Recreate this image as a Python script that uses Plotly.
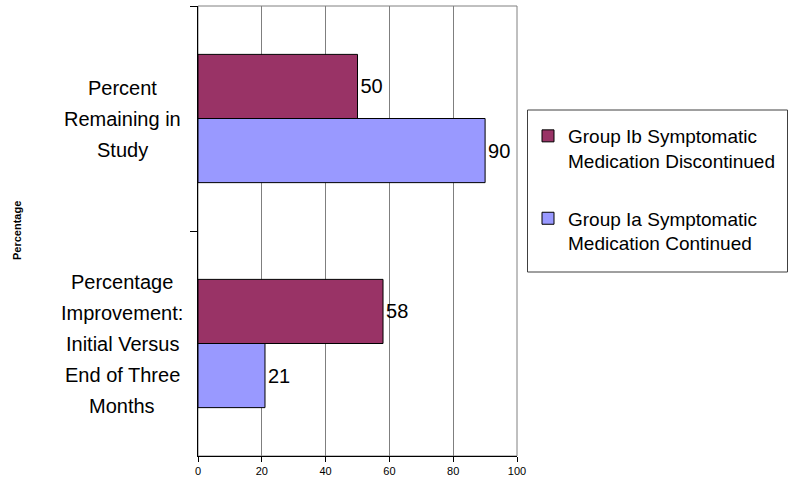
import plotly.graph_objects as go

# Categories (top to bottom) and their label lines
categories = ["Percent Remaining in Study",
              "Percentage Improvement: Initial Versus End of Three Months"]
label_lines = [["Percent", "Remaining in", "Study"],
               ["Percentage", "Improvement:", "Initial Versus", "End of Three", "Months"]]

# Series values
group_ib = [50, 58]   # symptomatic medication discontinued
group_ia = [90, 21]   # symptomatic medication continued
series_names = ["Group Ib Symptomatic<br>Medication Discontinued",
                "Group Ia Symptomatic<br>Medication Continued"]
series_colors = ["#993366", "#9999FF"]

x_ticks = [0, 20, 40, 60, 80, 100]

FONT = "Liberation Sans, Arial, sans-serif"
W, H = 788, 484
ML, MR, MT, MB = 198, 271, 6, 28
PW = W - ML - MR
PH = H - MT - MB


def px_x(p):
    return (p - ML) / PW


def px_y(p):
    return 1 - (p - MT) / PH


fig = go.Figure()
for i, (name, vals, col) in enumerate(zip(series_names, [group_ib, group_ia], series_colors)):
    fig.add_trace(go.Bar(
        y=categories, x=vals, name=name, orientation="h",
        marker=dict(color=col, line=dict(color="#000000", width=1)),
        text=[str(v) for v in vals], textposition="outside",
        textfont=dict(family=FONT, size=20, color="#000000"),
        cliponaxis=False, legendgroup=f"g{i}",
    ))

# Multi-line category labels with wide line spacing
annotations = []
line_step = 31
for cat, lines in zip(categories, label_lines):
    n = len(lines)
    for k, ln in enumerate(lines):
        annotations.append(dict(
            x=px_x(122), xref="paper", y=cat, yref="y",
            text=ln, showarrow=False, xanchor="center", yanchor="middle",
            yshift=-(k - (n - 1) / 2) * line_step,
            font=dict(family=FONT, size=20, color="#000000"),
        ))

annotations.append(dict(
    x=px_x(17), xref="paper", y=px_y(231), yref="paper",
    text="<b>Percentage</b>", showarrow=False, textangle=-90,
    xanchor="center", yanchor="middle",
    font=dict(family=FONT, size=11, color="#000000"),
))

shapes = [
    # plot area frame
    dict(type="rect", xref="paper", yref="paper", x0=0, x1=1, y0=0, y1=1,
         line=dict(color="#808080", width=1), layer="below"),
    # legend frame
    dict(type="rect", xref="paper", yref="paper",
         x0=px_x(527.5), x1=px_x(787.5), y0=px_y(272), y1=px_y(110),
         line=dict(color="#404040", width=1)),
]

fig.update_layout(
    width=W, height=H,
    margin=dict(l=ML, r=MR, t=MT, b=MB, pad=0),
    paper_bgcolor="#FFFFFF", plot_bgcolor="#FFFFFF",
    barmode="group", bargap=0.43, bargroupgap=0,
    font=dict(family=FONT, color="#000000"),
    showlegend=True,
    legend=dict(
        x=px_x(528), xanchor="left", y=px_y(117), yanchor="top",
        traceorder="grouped", tracegroupgap=30, valign="top",
        font=dict(family=FONT, size=19, color="#000000"),
        bgcolor="rgba(0,0,0,0)", borderwidth=0,
    ),
    xaxis=dict(
        range=[0, 100], tickvals=x_ticks, ticktext=[str(t) for t in x_ticks],
        showgrid=True, gridcolor="#7F7F7F", gridwidth=1,
        showline=True, linecolor="#000000", linewidth=1,
        ticks="outside", ticklen=5, tickcolor="#000000",
        tickfont=dict(family=FONT, size=11, color="#000000"),
        zeroline=False, fixedrange=True,
    ),
    yaxis=dict(
        type="category", autorange="reversed",
        showline=True, linecolor="#000000", linewidth=1,
        ticks="outside", tickson="boundaries", ticklen=7, tickcolor="#000000",
        showticklabels=False, showgrid=False, zeroline=False,
    ),
    annotations=annotations,
    shapes=shapes,
)

fig.write_html("out.html")
